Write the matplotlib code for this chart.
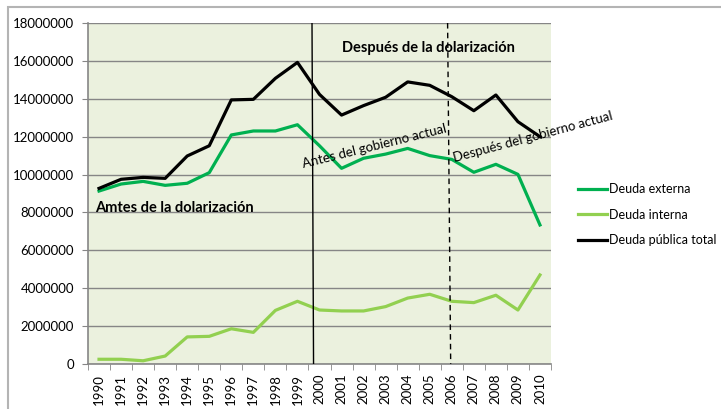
import numpy as np
import matplotlib
matplotlib.use("Agg")
import matplotlib.pyplot as plt
from matplotlib.patches import Rectangle

plt.rcParams['font.family'] = ['Lato', 'DejaVu Sans']

years = [str(y) for y in range(1990, 2011)]

deuda_externa = [9130000, 9500000, 9640000, 9430000, 9540000, 10100000, 12090000,
                 12300000, 12300000, 12630000, 11520000, 10330000, 10860000, 11080000,
                 11380000, 11000000, 10800000, 10120000, 10540000, 10010000, 7340000]
deuda_interna = [250000, 250000, 170000, 420000, 1430000, 1460000, 1860000,
                 1670000, 2830000, 3310000, 2850000, 2800000, 2800000, 3030000,
                 3480000, 3680000, 3310000, 3240000, 3630000, 2850000, 4700000]
deuda_total = [9270000, 9750000, 9850000, 9800000, 10980000, 11520000, 13940000,
               13970000, 15080000, 15920000, 14230000, 13140000, 13640000, 14080000,
               14890000, 14710000, 14110000, 13370000, 14200000, 12790000, 12000000]

yticks = list(range(0, 18000001, 2000000))

# division lines (category index, top/bottom)
linea_dolar = (9.66, 9.73)
linea_gobierno = (15.81, 15.95)

fig = plt.figure(figsize=(7.21, 4.09), dpi=100)
ax = fig.add_axes([88/721, 45/409, 463/721, 341/409])
ax.set_facecolor('#EBF1DE')

x = np.arange(len(years))
ax.plot(x, deuda_externa, color='#00B050', lw=2.3, label='Deuda externa', zorder=3)
ax.plot(x, deuda_interna, color='#92D050', lw=2.3, label='Deuda interna', zorder=3)
ax.plot(x, deuda_total, color='black', lw=2.3, label='Deuda pública total', zorder=3)

ax.set_xlim(-0.5, len(years) - 0.5)
ax.set_ylim(0, 18000000)
ax.set_yticks(yticks)
ax.set_yticklabels([str(v) for v in yticks])
ax.yaxis.grid(True, color='#868686', lw=1.0)
ax.set_axisbelow(True)

ax.set_xticks(x)
ax.set_xticklabels(years, rotation=90)
ax.set_xticks(np.arange(-0.5, len(years)), minor=True)
ax.tick_params(axis='x', which='major', length=0, pad=7, labelsize=9.5)
ax.tick_params(axis='x', which='minor', length=4, color='#868686')
ax.tick_params(axis='y', length=4, color='#868686', pad=6, labelsize=9.5)

for s in ['top', 'right']:
    ax.spines[s].set_visible(False)
for s in ['left', 'bottom']:
    ax.spines[s].set_color('#868686')
    ax.spines[s].set_linewidth(1.2)

ax.plot(linea_dolar, [18000000, 0], color='black', lw=1.0, zorder=4)
ax.plot(linea_gobierno, [18000000, 0], color='black', lw=1.0, ls=(0, (4, 3)), zorder=4)

ax.text(14.92, 16680000, 'Después de la dolarización', ha='center', va='center',
        fontsize=10.5, fontweight='bold', zorder=5)
ax.text(-0.2, 8230000, 'Amtes de la dolarización', ha='left', va='center',
        fontsize=10.5, fontweight='bold', zorder=5)
ax.text(9.27, 10350000, 'Antes del gobierno actual', ha='left', va='baseline',
        rotation=14, rotation_mode='anchor', fontsize=9.5, zorder=5)
ax.text(16.11, 10680000, 'Después del gobierno actual', ha='left', va='baseline',
        rotation=15, rotation_mode='anchor', fontsize=9.5, zorder=5, clip_on=False)

fig.legend(loc='upper left', bbox_to_anchor=(573/721, 1 - 178/409), frameon=False,
           fontsize=9, handlelength=2.3, handletextpad=0.2, labelspacing=1.1,
           borderaxespad=0)

fig.patches.append(Rectangle((8/721, -0.1), 1.2, (409 - 7)/409 + 0.1,
                             transform=fig.transFigure, fill=False,
                             edgecolor='#b4b4b4', lw=1.5))

fig.savefig('out.png', dpi=100)
